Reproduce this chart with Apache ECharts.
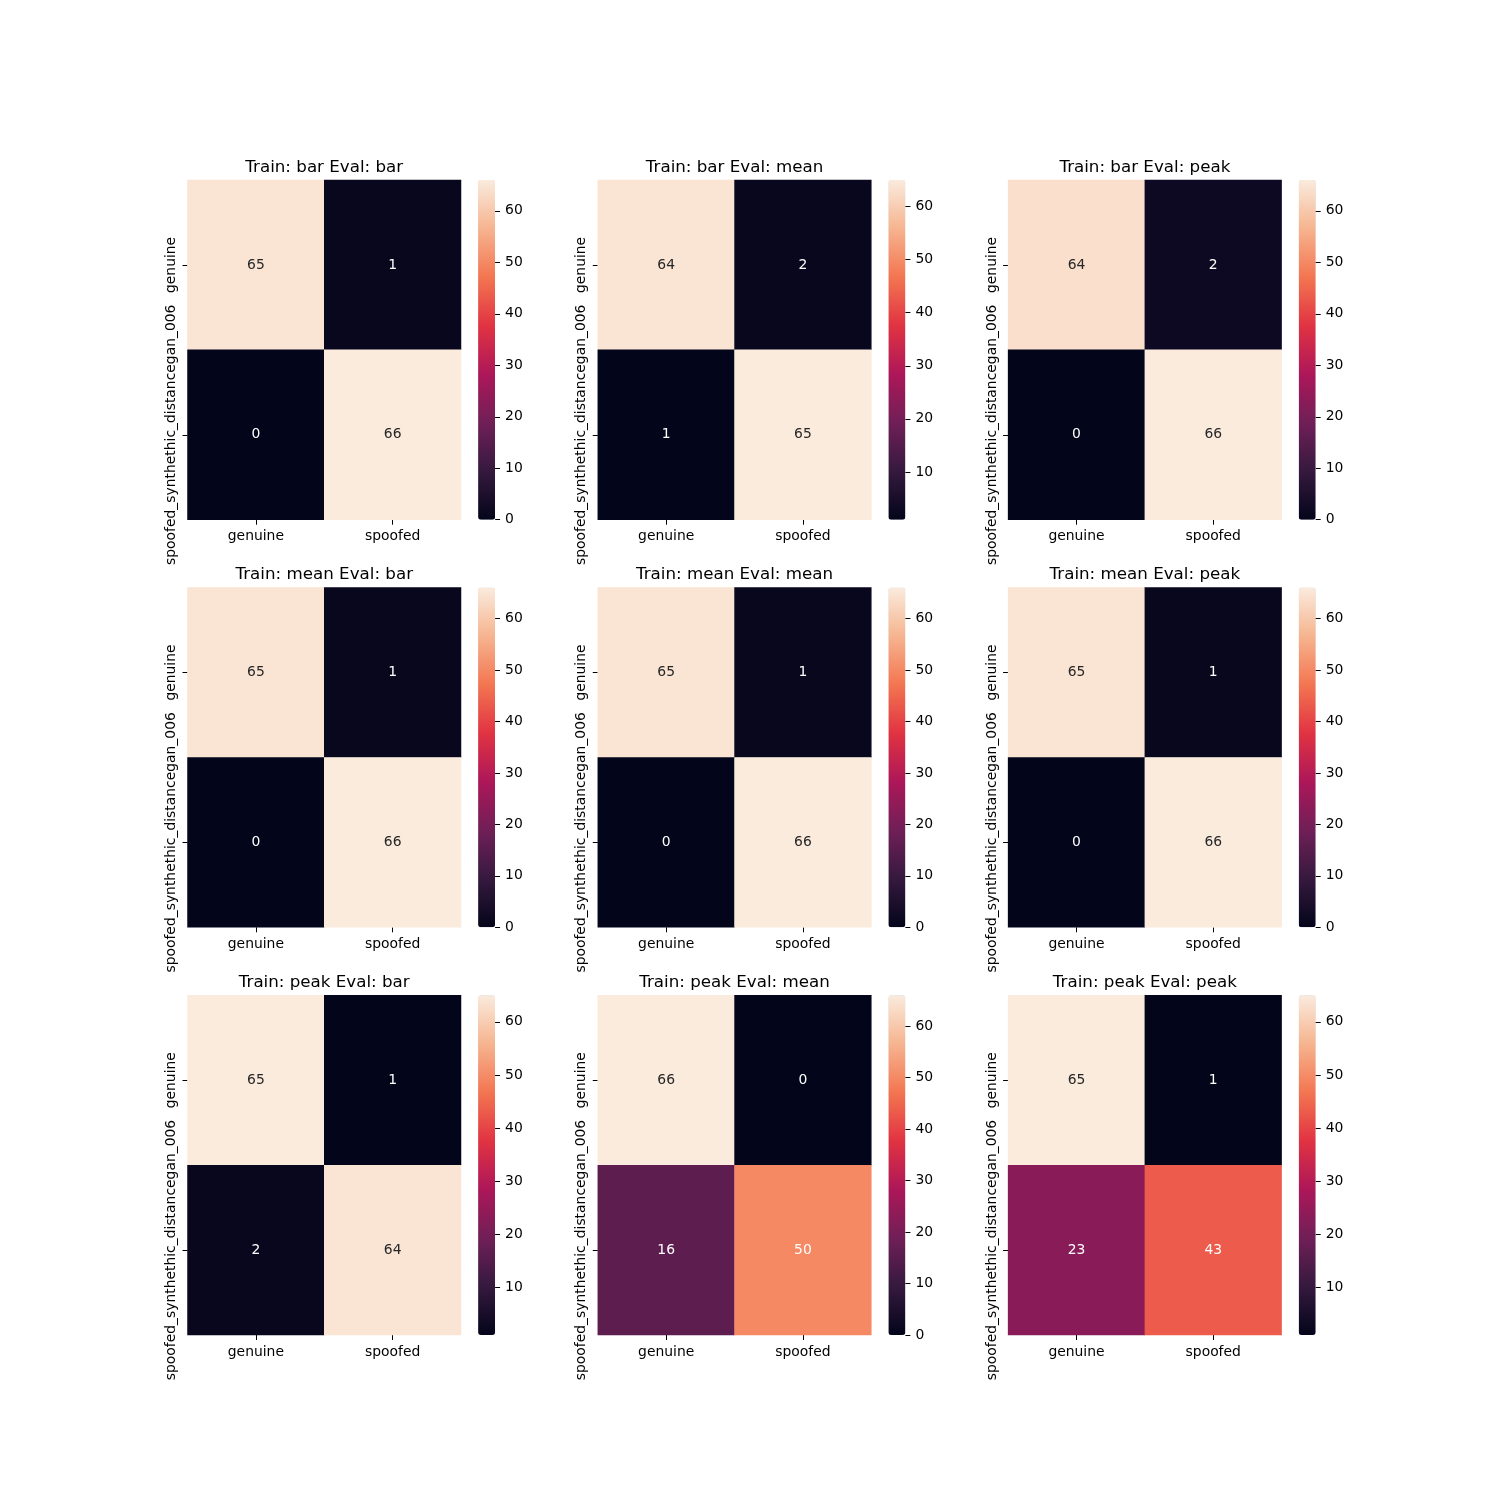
<!DOCTYPE html>
<html><head><meta charset="utf-8">
<script src="https://cdn.jsdelivr.net/npm/echarts@6/dist/echarts.min.js"></script>
<style>html,body{margin:0;padding:0;background:#fff}#c{width:1500px;height:1500px}</style>
</head><body><div id="c"></div>
<script>
// ---- data ----
const categoriesX = ['genuine', 'spoofed'];
const categoriesY = ['genuine', 'spoofed_synthethic_distancegan_006'];
const trainMethods = ['bar', 'mean', 'peak'];
const evalMethods = ['bar', 'mean', 'peak'];
const barBar = [[65, 1], [0, 66]];
const barMean = [[64, 2], [1, 65]];
const barPeak = [[64, 2], [0, 66]];
const meanBar = [[65, 1], [0, 66]];
const meanMean = [[65, 1], [0, 66]];
const meanPeak = [[65, 1], [0, 66]];
const peakBar = [[65, 1], [2, 64]];
const peakMean = [[66, 0], [16, 50]];
const peakPeak = [[65, 1], [23, 43]];
const ticksFrom0 = [0, 10, 20, 30, 40, 50, 60];
const ticksFrom1 = [10, 20, 30, 40, 50, 60];
const matrices = [barBar, barMean, barPeak, meanBar, meanMean, meanPeak, peakBar, peakMean, peakPeak];
const colorbarTicks = [ticksFrom0, ticksFrom1, ticksFrom0, ticksFrom0, ticksFrom0, ticksFrom0, ticksFrom1, ticksFrom0, ticksFrom1];
// seaborn "rocket" colormap stops
const rocket = ['#03051a', '#35193e', '#701f57', '#ad1759', '#e13342', '#f37651', '#f6b48f', '#faebdd'];

// ---- layout ----
const FONT = 'DejaVu Sans';
const colLeft = [187.5, 597.8, 1008.1];
const rowTop = [180, 587.6, 995.3];
const W = 273.5, H = 339.7;
const cbGap = 17.1, cbW = 17;

const grid = [], xAxis = [], yAxis = [], series = [], visualMap = [], title = [];
matrices.forEach((m, i) => {
  const r = Math.floor(i / 3), c = i % 3;
  const flat = m.flat();
  const mn = Math.min(...flat), mx = Math.max(...flat);
  const left = colLeft[c], top = rowTop[r];
  grid.push({left: left, top: top, width: W, height: H, containLabel: false});
  const gi = grid.length - 1;
  xAxis.push({type: 'category', gridIndex: gi, data: categoriesX, position: 'bottom',
    axisLine: {show: false, onZero: false}, splitLine: {show: false}, splitArea: {show: false},
    axisTick: {show: true, alignWithLabel: true, length: 5, lineStyle: {color: '#000'}},
    axisLabel: {fontFamily: FONT, fontSize: 13.9, color: '#000', margin: 10, interval: 0}});
  yAxis.push({type: 'category', gridIndex: gi, data: categoriesY, inverse: true,
    axisLine: {show: false, onZero: false}, splitLine: {show: false}, splitArea: {show: false},
    axisTick: {show: true, alignWithLabel: true, length: 5, lineStyle: {color: '#000'}},
    axisLabel: {fontFamily: FONT, fontSize: 13.9, color: '#000', margin: 9, rotate: 90, interval: 0, hideOverlap: false}});
  const data = [];
  m.forEach((row, yi) => row.forEach((v, xi) => {
    const t = (v - mn) / (mx - mn);
    data.push({value: [xi, yi, v], label: {color: t > 0.8 ? '#262626' : '#ffffff'}});
  }));
  series.push({type: 'heatmap', xAxisIndex: gi, yAxisIndex: gi, data: data,
    label: {show: true, fontFamily: FONT, fontSize: 13.9},
    emphasis: {disabled: true}, animation: false, progressive: 0});
  const si = series.length - 1;
  visualMap.push({type: 'continuous', seriesIndex: si, min: mn, max: mx, calculable: false,
    orient: 'vertical', left: left + W + cbGap, top: top, itemWidth: cbW, itemHeight: H,
    padding: 0, text: null, showLabel: false, hoverLink: false, z: 1,
    inRange: {color: rocket}, textStyle: {color: 'rgba(0,0,0,0)'}});
  grid.push({left: left + W + cbGap, top: top, width: cbW, height: H, containLabel: false});
  const ci = grid.length - 1;
  xAxis.push({type: 'value', gridIndex: ci, show: false, min: 0, max: 1});
  yAxis.push({type: 'value', gridIndex: ci, position: 'right', min: mn, max: mx, z: 10,
    axisLine: {show: false, onZero: false}, splitLine: {show: false},
    axisTick: {show: true, inside: false, length: 5, lineStyle: {color: '#000'}, customValues: colorbarTicks[i]},
    axisLabel: {fontFamily: FONT, fontSize: 13.9, color: '#000', margin: 10, padding: [4, 0, 0, 0], customValues: colorbarTicks[i]}});
  title.push({text: 'Train: ' + trainMethods[r] + ' Eval: ' + evalMethods[c],
    left: left + W / 2, top: top - 21, textAlign: 'center', padding: 0,
    textStyle: {fontFamily: FONT, fontSize: 16.7, fontWeight: 'normal', color: '#000'}});
});

const chart = echarts.init(document.getElementById('c'), null, {renderer: 'canvas'});
chart.setOption({backgroundColor: '#fff', animation: false, title, grid, xAxis, yAxis, series, visualMap});
</script></body></html>
